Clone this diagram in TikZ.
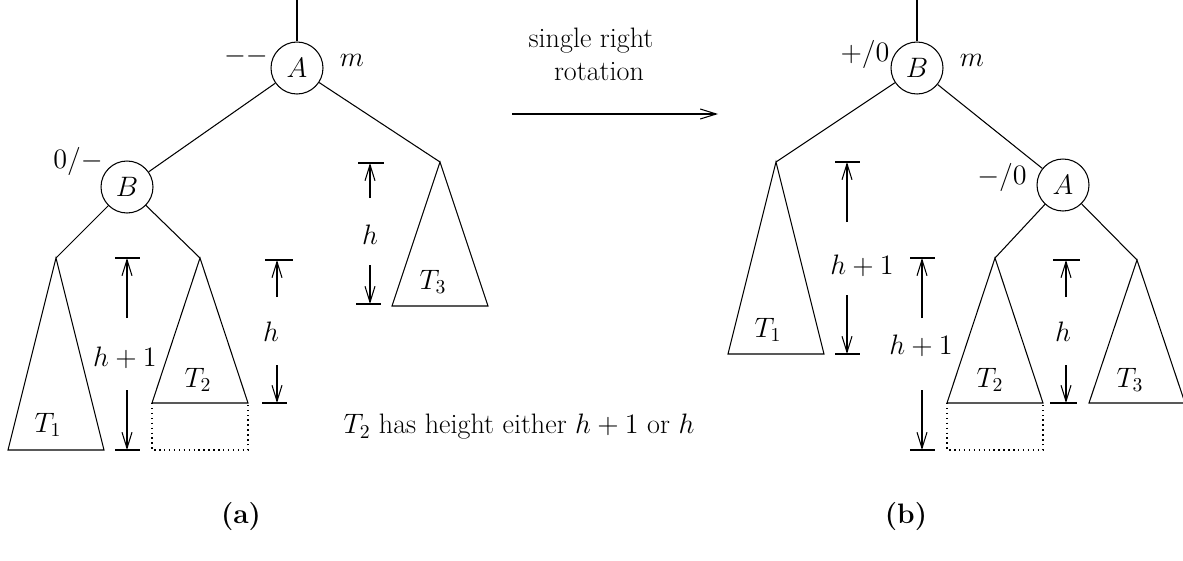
\RequirePackage{fix-cm}
\documentclass[tikz,border=0pt]{standalone}
\usetikzlibrary{arrows.meta}
\begin{document}
\begin{tikzpicture}[x=0.02cm,y=-0.02cm,line width=0.6pt,
    font=\fontsize{16}{19}\selectfont,
    avlNode/.style={draw,circle,minimum size=1.04cm,inner sep=0pt},
    avlDim/.style={-{Straight Barb[length=0.32cm,width=0.2cm]}},
    avlDots/.style={dotted,line width=0.8pt},
]
\useasboundingbox (0,0) rectangle (1183,561);
%%% (a) before the rotation
\node[avlNode] (lA) at (297,68) {$A$};
\node[avlNode] (lB) at (127,187) {$B$};
\coordinate (lTop) at (297,0);
\node (lAbal) at (246,56) {$--$};
\node (lAm) at (352,60) {$m$};
\node (lBbal) at (78,161) {$0/-$};
% subtree apexes
\coordinate (lT1) at (56,258);
\coordinate (lT2) at (200,258);
\coordinate (lT3) at (440,162);
\draw (lTop) -- (lA);
\draw (lA) -- (lB);
\draw (lA) -- (lT3);
\draw (lB) -- (lT1);
\draw (lB) -- (lT2);
% subtrees
\draw (lT1) -- ++(-48,192) -- ++(96,0) -- cycle;
\draw (lT2) -- ++(-48,145) -- ++(96,0) -- cycle;
\draw[avlDots] (lT2) ++(-48,145) -- ++(0,47) -- ++(96,0) -- ++(0,-47);
\draw (lT3) -- ++(-48,144) -- ++(96,0) -- cycle;
\node (lT1lbl) at (48,425) {$T_1$};
\node (lT2lbl) at (198,380) {$T_2$};
\node (lT3lbl) at (433,282) {$T_3$};
% heights
\coordinate (lD1a) at (127,318); \coordinate (lD1t) at (127,258);
\coordinate (lD1b) at (127,390); \coordinate (lD1e) at (127,450);
\draw (115,258) -- (140,258);
\draw (115,450) -- (140,450);
\draw[avlDim] (lD1a) -- (lD1t);
\draw[avlDim] (lD1b) -- (lD1e);
\node (lD1lbl) at (125,358) {$h+1$};
\coordinate (lD2a) at (277,297); \coordinate (lD2t) at (277,260);
\coordinate (lD2b) at (277,365); \coordinate (lD2e) at (277,403);
\draw (265,260) -- (292,260);
\draw[avlDots] (292,260) -- (296,260);
\draw (262,403) -- (287,403);
\draw[avlDim] (lD2a) -- (lD2t);
\draw[avlDim] (lD2b) -- (lD2e);
\node (lD2lbl) at (271,332) {$h$};
\coordinate (lD3a) at (370,198); \coordinate (lD3t) at (370,163);
\coordinate (lD3b) at (370,265); \coordinate (lD3e) at (370,304);
\draw (358,163) -- (383,163);
\draw[avlDots] (383,163) -- (387,163);
\draw (356,304) -- (381,304);
\draw[avlDim] (lD3a) -- (lD3t);
\draw[avlDim] (lD3b) -- (lD3e);
\node (lD3lbl) at (370,235) {$h$};
\node (note) at (519,427) {$T_2$ has height either $h+1$ or $h$};
\node (capA) at (241,516) {\bfseries (a)};
%%% the rotation
\coordinate (rotS) at (512,114);
\coordinate (rotE) at (718,114);
\draw[avlDim] (rotS) -- (rotE);
\node (rotL1) at (591,41) {single right};
\node (rotL2) at (599,72) {rotation};
%%% (b) after the rotation
\node[avlNode] (rB) at (917,68) {$B$};
\node[avlNode] (rA) at (1063,185) {$A$};
\coordinate (rTop) at (917,0);
\node (rBbal) at (865,54) {$+/0$};
\node (rBm) at (972,60) {$m$};
\node (rAbal) at (1002,177) {$-/0$};
% subtree apexes
\coordinate (rT1) at (776,162);
\coordinate (rT2) at (995,258);
\coordinate (rT3) at (1137,260);
\draw (rTop) -- (rB);
\draw (rB) -- (rT1);
\draw (rB) -- (rA);
\draw (rA) -- (rT2);
\draw (rA) -- (rT3);
% subtrees
\draw (rT1) -- ++(-48,192) -- ++(96,0) -- cycle;
\draw (rT2) -- ++(-48,145) -- ++(96,0) -- cycle;
\draw[avlDots] (rT2) ++(-48,145) -- ++(0,47) -- ++(96,0) -- ++(0,-47);
\draw (rT3) -- ++(-48,143) -- ++(96,0) -- cycle;
\node (rT1lbl) at (768,330) {$T_1$};
\node (rT2lbl) at (990,380) {$T_2$};
\node (rT3lbl) at (1130,380) {$T_3$};
% heights
\coordinate (rD1a) at (847,222); \coordinate (rD1t) at (847,162);
\coordinate (rD1b) at (847,295); \coordinate (rD1e) at (847,354);
\draw (835,162) -- (860,162);
\draw (835,354) -- (860,354);
\draw[avlDim] (rD1a) -- (rD1t);
\draw[avlDim] (rD1b) -- (rD1e);
\node (rD1lbl) at (862,266) {$h+1$};
\coordinate (rD2a) at (922,318); \coordinate (rD2t) at (922,258);
\coordinate (rD2b) at (922,390); \coordinate (rD2e) at (922,450);
\draw (910,258) -- (935,258);
\draw (910,450) -- (935,450);
\draw[avlDim] (rD2a) -- (rD2t);
\draw[avlDim] (rD2b) -- (rD2e);
\node (rD2lbl) at (921,346) {$h+1$};
\coordinate (rD3a) at (1066,297); \coordinate (rD3t) at (1066,260);
\coordinate (rD3b) at (1066,365); \coordinate (rD3e) at (1066,403);
\draw (1053,260) -- (1079,260);
\draw[avlDots] (1079,260) -- (1083,260);
\draw (1050,403) -- (1077,403);
\draw[avlDim] (rD3a) -- (rD3t);
\draw[avlDim] (rD3b) -- (rD3e);
\node (rD3lbl) at (1063,332) {$h$};
\node (capB) at (906,516) {\bfseries (b)};
\end{tikzpicture}
\end{document}
